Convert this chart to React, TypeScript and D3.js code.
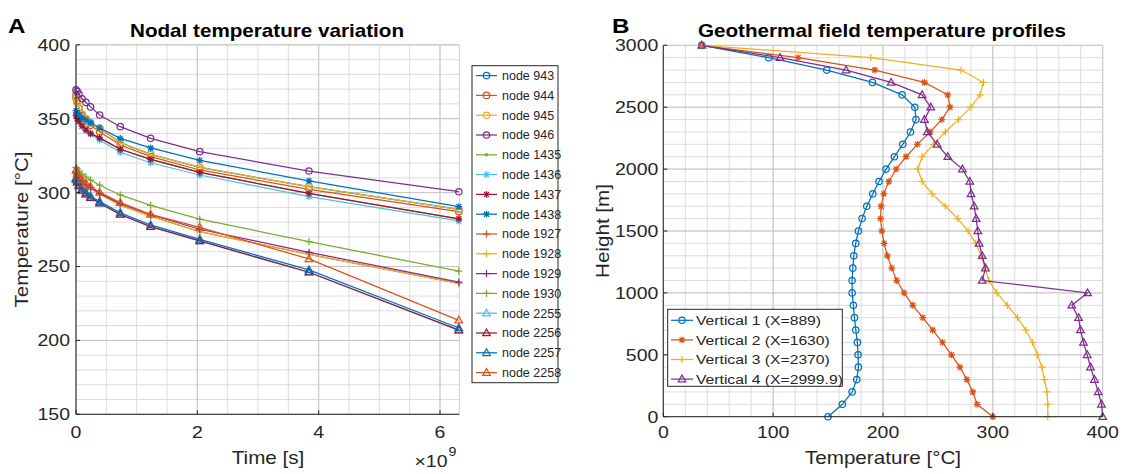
import React from 'react';
import * as d3 from 'd3';

// ---------- Panel A data ----------
const timeE9 = [0, 0.02, 0.05, 0.1, 0.165, 0.24, 0.39, 0.73, 1.23, 2.04, 3.84, 6.31];
const node943 = [364, 361, 357, 353, 350, 347, 343.5, 333.8, 325.9, 317, 304, 288.7];
const node944 = [366, 362, 357, 352, 348.5, 345.5, 341.2, 332.2, 324.3, 315.3, 302.2, 287.1];
const node945 = [364, 361, 357, 353, 350, 347, 343.5, 333.8, 325.9, 317, 304, 288.7];
const node946 = [369.5, 368.5, 366.5, 363.5, 361, 358, 352.5, 344.6, 336.7, 327.7, 314.6, 300.6];
const node1435 = [352, 350, 348, 345, 342.5, 340, 337, 329.3, 322.5, 313.7, 299.5, 282.3];
const node1436 = [354, 351.5, 348.5, 345, 342, 339.5, 335.6, 327.3, 320.2, 311.9, 297.3, 280.8];
const node1437 = [352, 350, 348, 345, 342.5, 340, 337, 329.3, 322.5, 313.7, 299.5, 282.3];
const node1438 = [355.5, 354, 352.5, 350.5, 349, 347.3, 343.7, 336.7, 330.2, 321.8, 307.9, 290.5];
const node1927 = [313.5, 312, 310, 307.5, 305, 303, 299, 291.5, 284, 273.6, 258.2, 238.6];
const node1928 = [313.5, 312, 310, 307.5, 305, 303, 299, 291.5, 284, 273.6, 258.2, 238.6];
const node1929 = [314, 312.5, 310.5, 308, 305.5, 303.5, 299.5, 292.5, 285, 275.2, 259.6, 239.5];
const node1930 = [317, 316, 314.5, 312.5, 310.5, 308.5, 305, 298.4, 291.4, 282.1, 266.8, 246.9];
const node2255 = [309, 307, 304.5, 301.5, 299, 296.5, 292.8, 285.2, 277, 267.3, 246.1, 207];
const node2256 = [309, 307, 304.5, 301.5, 299, 296.5, 292.8, 285.2, 277, 267.3, 246.1, 207];
const node2257 = [310, 308, 305.5, 302.5, 300, 297.5, 293.9, 286.3, 278.1, 268.4, 247.7, 208.4];
const node2258 = [315, 313, 311, 308.5, 306, 304, 300.2, 293.2, 285.3, 276.5, 255.1, 213.6];

const nodeNames = ['node 943', 'node 944', 'node 945', 'node 946', 'node 1435', 'node 1436', 'node 1437', 'node 1438',
  'node 1927', 'node 1928', 'node 1929', 'node 1930', 'node 2255', 'node 2256', 'node 2257', 'node 2258'];
const nodeValues = [node943, node944, node945, node946, node1435, node1436, node1437, node1438,
  node1927, node1928, node1929, node1930, node2255, node2256, node2257, node2258];
const nodeMarkers = ['o', 'o', 'o', 'o', '.', '*', '*', '*', '+', '+', '+', '+', '^', '^', '^', '^'];

const yTicksA = [150, 200, 250, 300, 350, 400];
const xTicksA = [0, 2, 4, 6];

// ---------- Panel B data ----------
const heights = [0, 100, 200, 300, 400, 500, 600, 700, 800, 900, 1000, 1100, 1200, 1300, 1400, 1500,
  1600, 1700, 1800, 1900, 2000, 2100, 2200, 2300, 2400, 2500, 2600, 2700, 2800, 2900, 3000];
const vertical1 = [150, 163, 171.9, 176.1, 177.6, 177.3, 176.7, 175.2, 174, 173, 171.9, 171.9, 172.5, 173.4, 175.2, 177.6,
  181, 185.2, 190.7, 196.4, 202.8, 210.4, 218, 225, 230, 229, 217.4, 190.4, 148.8, 96, 35];
const vertical2 = [300, 285.7, 281.8, 276.3, 270, 262.3, 254.1, 245.3, 236.2, 227.1, 219.2, 212.5, 208, 204, 201, 199,
  197.7, 198.3, 200.7, 205.3, 212, 221, 231.3, 242.9, 253.5, 261, 259, 237.7, 192.5, 122.7, 35];
const vertical3 = [350, 350, 349.2, 347, 344.6, 340.6, 336.1, 330, 322.4, 313.3, 303.6, 296.3, 293, 289.3, 284.5, 277.5,
  268.1, 256.8, 244.7, 235.6, 231.7, 235.6, 245.9, 256.8, 268.7, 280, 288.4, 291.4, 271.1, 188.9, 35];
const vertical4 = [400, 398.9, 395.9, 392.5, 388.9, 385.9, 382.5, 379.8, 378, 371.9, 386.2, 290.3, 293.3, 290.3, 287.5, 286.3,
  284.8, 283, 280.2, 279, 272.3, 259, 249.3, 240.4, 237.7, 243.5, 235.6, 207.4, 166.4, 106.3, 35];
const verticalNames = ['Vertical 1 (X=889)', 'Vertical 2 (X=1630)', 'Vertical 3 (X=2370)', 'Vertical 4 (X=2999.9)'];
const verticalValues = [vertical1, vertical2, vertical3, vertical4];
const verticalMarkers = ['o', '*', '+', '^'];

const xTicksB = [0, 100, 200, 300, 400];
const yTicksB = [0, 500, 1000, 1500, 2000, 2500, 3000];

// MATLAB default colour order
const palette = ['#0072BD', '#D95319', '#EDB120', '#7E2F8E', '#77AC30', '#4DBEEE', '#A2142F'];

const FONT = "'Liberation Sans', Arial, Helvetica, sans-serif";
const SX = 1.18;
const TXT = '#262626';
const LW = 1.25;

function T({ x, y, size, anchor = 'middle', weight = 'normal', rotate = false, fill = TXT, sx = SX, dy = '0', children }: any) {
  const tr = `translate(${x},${y})${rotate ? ' rotate(-90)' : ''} scale(${sx},1)`;
  return (
    <text transform={tr} textAnchor={anchor} fontSize={size} fontWeight={weight} fontFamily={FONT} fill={fill} dy={dy}>
      {children}
    </text>
  );
}

function Marker({ type, x, y, color }: any) {
  const sw = LW;
  if (type === 'o') return <circle cx={x} cy={y} r={3.2} fill="none" stroke={color} strokeWidth={sw} />;
  if (type === '.') return <circle cx={x} cy={y} r={1.8} fill={color} />;
  if (type === '+') return <path d={`M${x - 3.6},${y}H${x + 3.6}M${x},${y - 3.6}V${y + 3.6}`} stroke={color} strokeWidth={sw} fill="none" />;
  if (type === '*') return <path d={`M${x - 3.4},${y}H${x + 3.4}M${x},${y - 3.4}V${y + 3.4}M${x - 2.5},${y - 2.5}L${x + 2.5},${y + 2.5}M${x - 2.5},${y + 2.5}L${x + 2.5},${y - 2.5}`} stroke={color} strokeWidth={sw} fill="none" />;
  if (type === '^') return <path d={`M${x},${y - 4}L${x + 3.8},${y + 2.7}L${x - 3.8},${y + 2.7}Z`} stroke={color} strokeWidth={sw} fill="none" />;
  return null;
}

function Grid({ xs, ys, x, y, cls }: any) {
  const [x0, x1] = x.range();
  const [y0, y1] = y.range();
  return (
    <g>
      {xs.map((v: number, i: number) => (
        <line key={'x' + i} x1={x(v)} x2={x(v)} y1={y0} y2={y1} stroke={cls} strokeWidth={1} />
      ))}
      {ys.map((v: number, i: number) => (
        <line key={'y' + i} x1={x0} x2={x1} y1={y(v)} y2={y(v)} stroke={cls} strokeWidth={1} />
      ))}
    </g>
  );
}

export default function App() {
  // Panel A scales
  const xA = d3.scaleLinear().domain([0, 6.318]).range([76, 459.3]);
  const yA = d3.scaleLinear().domain([150, 400]).range([414.3, 44.8]);
  // Panel B scales
  const xB = d3.scaleLinear().domain([0, 400]).range([663.3, 1102.7]);
  const yB = d3.scaleLinear().domain([0, 3000]).range([416.7, 45.3]);

  const lineA = d3.line<number>().x((_, i) => xA(timeE9[i])).y((d) => yA(d));
  const lineB = d3.line<number>().x((d) => xB(d)).y((_, i) => yB(heights[i]));

  const minorXA = d3.range(0, 6.31, 0.5);
  const minorYA = d3.range(150, 401, 10);
  const minorXB = d3.range(0, 401, 20);
  const minorYB = d3.range(0, 3001, 100);

  const legA = { x: 472, y: 65.7, w: 86, h: 317, row: 19.8 };
  const legB = { x: 667.7, y: 309.3, w: 174.6, h: 77, row: 19.6 };

  return (
    <svg width={1141} height={474} style={{ position: 'absolute', left: 0, top: 0, background: '#fff' }}>
      <rect x={0} y={0} width={1141} height={474} fill="#fff" />
      {/* ---------------- Panel A ---------------- */}
      <Grid xs={minorXA} ys={minorYA} x={xA} y={yA} cls="#dcdcdc" />
      <Grid xs={xTicksA} ys={yTicksA} x={xA} y={yA} cls="#c6c6c6" />
      <line x1={76} x2={459.3} y1={44.8} y2={44.8} stroke="#cfcfcf" />
      <line x1={459.3} x2={459.3} y1={44.8} y2={414.3} stroke="#cfcfcf" />
      {nodeValues.map((vals, k) => {
        const c = palette[k % 7];
        return (
          <g key={k}>
            <path d={lineA(vals) || ''} fill="none" stroke={c} strokeWidth={LW} />
            {vals.map((v, i) => (
              <Marker key={i} type={nodeMarkers[k]} x={xA(timeE9[i])} y={yA(v)} color={c} />
            ))}
          </g>
        );
      })}
      <line x1={76} x2={76} y1={44.8} y2={414.3} stroke={TXT} strokeWidth={1} />
      <line x1={76} x2={459.3} y1={414.3} y2={414.3} stroke={TXT} strokeWidth={1} />
      {yTicksA.map((v) => (
        <g key={v}>
          <line x1={76} x2={80} y1={yA(v)} y2={yA(v)} stroke={TXT} />
          <T x={70} y={yA(v)} dy="0.36em" size={16.5} anchor="end">{v}</T>
        </g>
      ))}
      {xTicksA.map((v) => (
        <g key={v}>
          <line x1={xA(v)} x2={xA(v)} y1={414.3} y2={410.3} stroke={TXT} />
          <T x={xA(v)} y={437.5} size={16.5}>{v}</T>
        </g>
      ))}
      <T x={431} y={467} size={16.5} anchor="middle">×10</T>
      <T x={452.5} y={456} size={12} anchor="middle">9</T>
      <T x={268} y={464} size={17.5}>Time [s]</T>
      <T x={28} y={229.5} size={17.5} rotate>Temperature [°C]</T>
      <T x={267} y={37.3} size={17.5} weight="bold" fill="#000">Nodal temperature variation</T>
      <T x={8} y={33.3} size={20.5} weight="bold" anchor="start" fill="#000">A</T>

      {/* legend A */}
      <rect x={legA.x} y={legA.y} width={legA.w} height={legA.h} fill="#fff" stroke={TXT} strokeWidth={1} />
      {nodeNames.map((n, k) => {
        const cy = legA.y + legA.row * (k + 0.5);
        const c = palette[k % 7];
        return (
          <g key={n}>
            <line x1={476} x2={497} y1={cy} y2={cy} stroke={c} strokeWidth={LW} />
            <Marker type={nodeMarkers[k]} x={486.5} y={cy} color={c} />
            <T x={502} y={cy} dy="0.35em" size={12.5} anchor="start" sx={1.0}>{n}</T>
          </g>
        );
      })}

      {/* ---------------- Panel B ---------------- */}
      <Grid xs={minorXB} ys={minorYB} x={xB} y={yB} cls="#dcdcdc" />
      <Grid xs={xTicksB} ys={yTicksB} x={xB} y={yB} cls="#c6c6c6" />
      {verticalValues.map((vals, k) => {
        const c = palette[k];
        return (
          <g key={k}>
            <path d={lineB(vals) || ''} fill="none" stroke={c} strokeWidth={LW} />
            {vals.map((v, i) => (
              <Marker key={i} type={verticalMarkers[k]} x={xB(v)} y={yB(heights[i])} color={c} />
            ))}
          </g>
        );
      })}
      <line x1={663.3} x2={663.3} y1={45.3} y2={416.7} stroke={TXT} strokeWidth={1} />
      <line x1={663.3} x2={1102.7} y1={416.7} y2={416.7} stroke={TXT} strokeWidth={1} />
      {yTicksB.map((v) => (
        <g key={v}>
          <line x1={663.3} x2={667.3} y1={yB(v)} y2={yB(v)} stroke={TXT} />
          <T x={658.3} y={yB(v)} dy="0.36em" size={16.5} anchor="end">{v}</T>
        </g>
      ))}
      {xTicksB.map((v) => (
        <g key={v}>
          <line x1={xB(v)} x2={xB(v)} y1={416.7} y2={412.7} stroke={TXT} />
          <T x={xB(v)} y={437.5} size={16.5}>{v}</T>
        </g>
      ))}
      <T x={883} y={464} size={17.5}>Temperature [°C]</T>
      <T x={609} y={231} size={17.5} rotate>Height [m]</T>
      <T x={882} y={37.3} size={17.5} weight="bold" fill="#000">Geothermal field temperature profiles</T>
      <T x={612} y={33.3} size={20.5} weight="bold" anchor="start" fill="#000">B</T>

      {/* legend B */}
      <rect x={legB.x} y={legB.y} width={legB.w} height={legB.h} fill="#fff" stroke={TXT} strokeWidth={1} />
      {verticalNames.map((n, k) => {
        const cy = legB.y + 11 + legB.row * k;
        const c = palette[k];
        return (
          <g key={n}>
            <line x1={671} x2={693} y1={cy} y2={cy} stroke={c} strokeWidth={LW} />
            <Marker type={verticalMarkers[k]} x={682} y={cy} color={c} />
            <T x={696} y={cy} dy="0.35em" size={13.3} anchor="start">{n}</T>
          </g>
        );
      })}
    </svg>
  );
}
